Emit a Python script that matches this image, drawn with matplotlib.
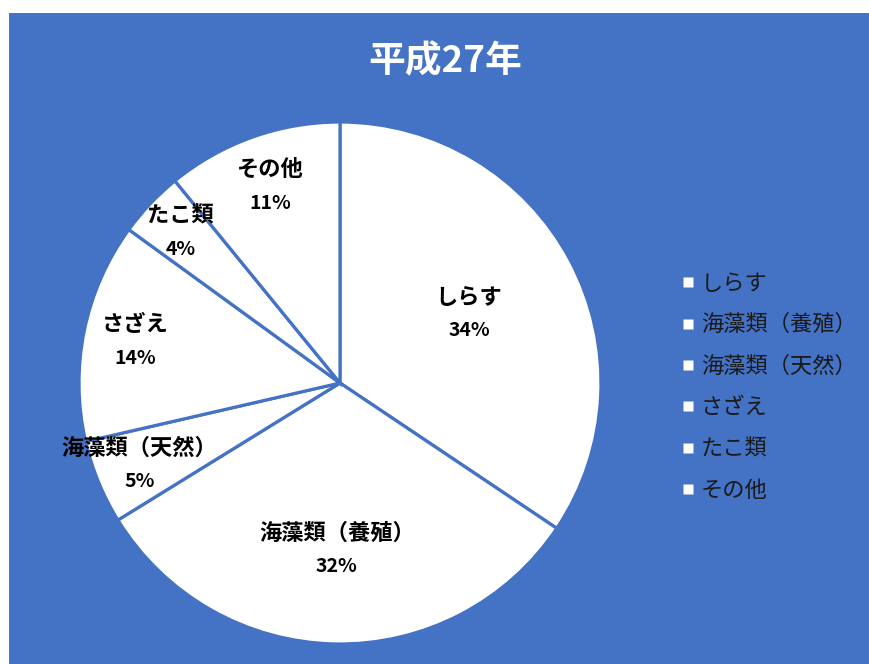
import numpy as np
import matplotlib.pyplot as plt
from matplotlib.patches import Rectangle
from matplotlib.lines import Line2D

plt.rcParams['font.family'] = ['Noto Sans CJK JP', 'DejaVu Sans']

title = '平成27年'
names = ['しらす', '海藻類（養殖）', '海藻類（天然）', 'さざえ', 'たこ類', 'その他']
values = [34.4, 31.8, 5.2, 13.6, 4.1, 10.9]

# label radius per slice (fraction of pie radius), like Excel's best fit
label_r = [0.56, 0.64, 0.83, 0.80, 0.84, 0.80]

BLUE = '#4472C4'
W, H = 870, 664

fig = plt.figure(figsize=(W / 100, H / 100), dpi=100)
fig.patch.set_facecolor('white')
fig.patches.append(Rectangle((9 / W, 0), 1, (H - 13) / H, transform=fig.transFigure,
                             facecolor=BLUE, edgecolor='none', zorder=-5))

cx, cy, R = 340, 383, 261
ax = fig.add_axes([(cx - R) / W, (H - cy - R) / H, 2 * R / W, 2 * R / H])
ax.set_facecolor('none')
ax.set_zorder(2)

wedges, _ = ax.pie(values, startangle=90, counterclock=False,
                   colors=['white'] * len(values),
                   wedgeprops=dict(edgecolor=BLUE, linewidth=2.3))
ax.set_xlim(-1, 1)
ax.set_ylim(-1, 1)
ax.set_aspect('auto')

total = sum(values)
for w, name, v, r in zip(wedges, names, values, label_r):
    mid = np.deg2rad((w.theta1 + w.theta2) / 2)
    x, y = r * np.cos(mid), r * np.sin(mid)
    ax.text(x, y + 0.064, name, ha='center', va='center', fontsize=16,
            fontweight='bold', color='black')
    ax.text(x, y - 0.064, f'{round(v / total * 100)}%', ha='center', va='center',
            fontsize=14, fontweight='bold', color='black')

fig.text(445 / W, 1 - 62 / H, title, ha='center', va='center', fontsize=26.5,
         fontweight='bold', color='white')

# white square markers, same as the slice fill
handles = [Line2D([], [], linestyle='none', marker='s', markersize=6.5,
                  markerfacecolor=w.get_facecolor(), markeredgecolor='none')
           for w in wedges]
leg = fig.legend(handles, names, loc='center left', bbox_to_anchor=(661 / W, 1 - 387 / H),
                 frameon=False, fontsize=16, labelspacing=0.83,
                 handlelength=0.6, handletextpad=0.3)
leg.set_zorder(3)
for t in leg.get_texts():
    t.set_color('#1a1a1a')

fig.savefig('out.png', dpi=100)
